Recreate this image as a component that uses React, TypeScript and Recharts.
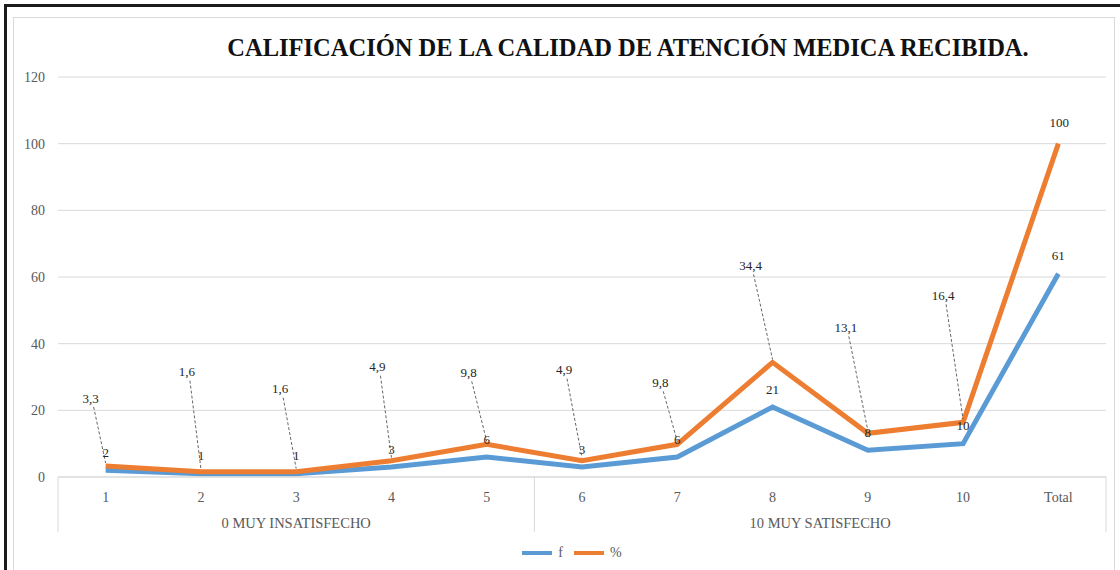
import React from 'react';
import { LineChart, Line, XAxis, YAxis, CartesianGrid, Legend, LabelList } from 'recharts';

const categories = ['1', '2', '3', '4', '5', '6', '7', '8', '9', '10', 'Total'];
const fValues = [2, 1, 1, 3, 6, 3, 6, 21, 8, 10, 61];
const pctValues = [3.3, 1.6, 1.6, 4.9, 9.8, 4.9, 9.8, 34.4, 13.1, 16.4, 100];
const yTicks = [0, 20, 40, 60, 80, 100, 120];
const groupLabels = ['0 MUY INSATISFECHO', '10 MUY SATISFECHO'];
const groupSizes = [5, 6];
const seriesNames = ['f', '%'];

const data = categories.map((c, i) => ({ cat: c, f: fValues[i], pct: pctValues[i] }));

// Manually placed (Excel-style) percent labels: offset from each point, in px
const PCT_LABEL_OFFSETS: [number, number][] = [
  [-15, -68], [-14, -100], [-16, -83], [-14, -94], [-18, -72], [-18, -91],
  [-17, -62], [-22, -97], [-22, -106], [-20, -127], [1, -21],
];

const BLUE = '#5B9BD5';
const ORANGE = '#ED7D31';
const FONT = '"Liberation Serif", "Times New Roman", serif';
const TXT = '#595959';
const HALF_BAND = 47.64;

const fmt = (v: number) => String(v).replace('.', ',');

const CatTick = (props: any) => {
  const { x, y, payload, index } = props;
  const half = HALF_BAND;
  const items: React.ReactNode[] = [];
  items.push(
    <text key="t" x={x} y={y + 20} textAnchor="middle" dominantBaseline="central"
      fontFamily={FONT} fontSize={14} fill={TXT}>{payload.value}</text>
  );
  let start = 0;
  groupSizes.forEach((n, g) => {
    const end = start + n - 1;
    const mid = start + (n - 1) / 2;
    const midIdx = Math.floor(mid);
    if (index === start && g === 0) {
      items.push(<line key={'l0'} x1={x - half} x2={x - half} y1={y} y2={y + 55} stroke="#d9d9d9" />);
    }
    if (index === end) {
      items.push(<line key={'le' + g} x1={x + half} x2={x + half} y1={y} y2={y + 55} stroke="#d9d9d9" />);
    }
    if (index === midIdx) {
      const gx = mid === midIdx ? x : x + half;
      items.push(
        <text key={'g' + g} x={gx} y={y + 46} textAnchor="middle" dominantBaseline="central"
          fontFamily={FONT} fontSize={14.5} fill={TXT}>{groupLabels[g]}</text>
      );
    }
    start += n;
  });
  return <g>{items}</g>;
};

const PctLabel = (props: any) => {
  const { x, y, index, value } = props;
  const off = PCT_LABEL_OFFSETS[index] || [0, -12];
  const lx = x + off[0];
  const ly = y + off[1];
  const leader = off[1] < -30;
  return (
    <g>
      {leader && (
        <line x1={lx + 3} y1={ly + 9} x2={x} y2={y - 3} stroke="#555" strokeWidth={0.9} strokeDasharray="3 2" />
      )}
      <text x={lx} y={ly} textAnchor="middle" dominantBaseline="central" fontFamily={FONT} fontSize={13} fill="#262626">
        {fmt(value)}
      </text>
    </g>
  );
};

const FLabel = (props: any) => {
  const { x, y, value } = props;
  return (
    <text x={x} y={y - 18} textAnchor="middle" dominantBaseline="central" fontFamily={FONT} fontSize={13} fill="#262626">
      {fmt(value)}
    </text>
  );
};

const LegendContent = () => (
  <div style={{ height: 26, display: 'flex', justifyContent: 'center', alignItems: 'center', fontFamily: FONT, fontSize: 14, color: TXT, paddingLeft: 38 }}>
    {[BLUE, ORANGE].map((c, i) => (
      <div key={i} style={{ display: 'flex', alignItems: 'center', marginRight: i === 0 ? 11 : 0 }}>
        <div style={{ width: 30, height: 4, background: c, marginRight: 6 }} />
        <span>{seriesNames[i]}</span>
      </div>
    ))}
  </div>
);

export default function App() {
  return (
    <div style={{ position: 'absolute', left: 0, top: 0, width: 1120, height: 570, overflow: 'hidden', background: '#fff' }}>
      <div style={{ position: 'absolute', left: 4, top: 4, width: 1140, height: 600, border: '3px solid #1a1a1a', boxSizing: 'border-box' }} />
      <div style={{ position: 'absolute', left: 13, top: 17, width: 1102, height: 600, border: '1px solid #d9d9d9', boxSizing: 'border-box' }} />
      <div style={{ position: 'absolute', left: 0, top: 0 }}>
        <LineChart width={1120} height={570} data={data} margin={{ top: 77, right: 14, left: 0, bottom: 4 }}>
          <CartesianGrid vertical={false} stroke="#d9d9d9" />
          <XAxis dataKey="cat" interval={0} height={63} tickSize={0} tickMargin={0} tickLine={false}
            padding={{ left: HALF_BAND, right: HALF_BAND }}
            axisLine={{ stroke: '#d9d9d9' }} tick={<CatTick />} />
          <YAxis domain={[0, 120]} ticks={yTicks} width={58} tickSize={0} tickMargin={13} axisLine={false} tickLine={false}
            tick={{ fontFamily: FONT, fontSize: 14, fill: TXT }} />
          <Legend verticalAlign="bottom" content={<LegendContent />} />
          <Line type="linear" dataKey="f" name={seriesNames[0]} stroke={BLUE} strokeWidth={5} dot={false} activeDot={false} isAnimationActive={false} />
          <Line type="linear" dataKey="pct" name={seriesNames[1]} stroke={ORANGE} strokeWidth={5} dot={false} activeDot={false} isAnimationActive={false}>
            <LabelList dataKey="pct" content={<PctLabel />} />
          </Line>
          <Line type="linear" dataKey="f" stroke="none" strokeWidth={0} dot={false} activeDot={false} legendType="none" isAnimationActive={false}>
            <LabelList dataKey="f" content={<FLabel />} />
          </Line>
        </LineChart>
      </div>
      <div style={{ position: 'absolute', left: 178, top: 34, width: 900, textAlign: 'center', fontFamily: FONT, fontWeight: 'bold', fontSize: 24.5, color: '#111', whiteSpace: 'nowrap' }}>
        CALIFICACIÓN DE LA CALIDAD DE ATENCIÓN MEDICA RECIBIDA.
      </div>
    </div>
  );
}
